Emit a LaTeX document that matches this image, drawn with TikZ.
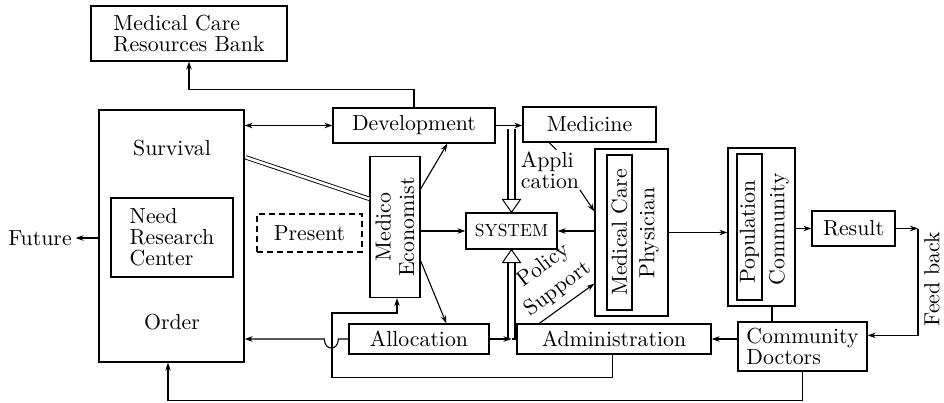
\documentclass[tikz,border=0pt]{standalone}
\usepackage{fontspec}
\setmainfont{lmroman10-regular.otf}
\usetikzlibrary{arrows.meta,calc}
\begin{document}
\begin{tikzpicture}[x=1pt,y=-1pt,line width=1.1pt,
  every node/.style={font=\fontsize{21.8}{21}\selectfont},
  rbox/.style={draw,inner sep=0pt,line width=1.3pt},
  arr/.style={-{Stealth[length=8pt,width=5.5pt]}},
  darr/.style={{Stealth[length=8pt,width=5.5pt]}-{Stealth[length=8pt,width=5.5pt]}},
  hollow/.style={draw,fill=white,line width=1pt,line join=miter},
  vtext/.style={rotate=90,inner sep=0pt,align=center},
  slant/.style={rotate=37,inner sep=0pt}]
\useasboundingbox (0,0) rectangle (944,402);

% boxes
\node[rbox,minimum width=196pt,minimum height=55pt,align=left] (bank) at (189,33.5) {Medical Care\\Resources Bank};
\node[rbox,minimum width=145pt,minimum height=252pt] (big) at (171.5,236) {};
\node (surv) at (172,148) {Survival};
\node (order) at (172,322) {Order};
\node[rbox,minimum width=122pt,minimum height=79pt,align=left] (need) at (172,237.5) {Need\\Research\\Center};
\node (fut) at (40,238) {Future};
\node[rbox,minimum width=162pt,minimum height=35pt] (dev) at (414,125.5) {Development};
\node[rbox,minimum width=133pt,minimum height=35pt] (med) at (589.5,124.5) {Medicine};
\node[rbox,minimum width=91pt,minimum height=36pt,font=\fontsize{17.5}{17}\selectfont] (sys) at (511.5,231) {SYSTEM};
\node[rbox,minimum width=50pt,minimum height=141pt] (econ) at (395,227) {};
\node[vtext,font=\fontsize{21.8}{23.5}\selectfont] (econt) at (395,227) {Medico\\Economist};
\node[rbox,dash pattern=on 6pt off 4pt,minimum width=105pt,minimum height=38pt] (pres) at (309.5,233) {Present};
\node[rbox,minimum width=140pt,minimum height=30pt] (alloc) at (419,339) {Allocation};
\node[rbox,minimum width=194pt,minimum height=30pt] (admin) at (614,339) {Administration};
\node[rbox,minimum width=73pt,minimum height=167pt] (mco) at (631.5,232.5) {};
\node[rbox,minimum width=25pt,minimum height=155pt] (mci) at (619.5,232.5) {};
\node[vtext] (mct) at (619.5,232.5) {Medical Care};
\node[vtext] (phys) at (649,233) {Physician};
\node[rbox,minimum width=67pt,minimum height=158pt] (popo) at (761.5,227) {};
\node[rbox,minimum width=25pt,minimum height=146pt] (popi) at (749.5,227) {};
\node[vtext] (popt) at (749.5,232) {Population};
\node[vtext] (comt) at (779,229) {Community};
\node[rbox,minimum width=83pt,minimum height=35pt] (res) at (853.5,228.5) {Result};
\node[rbox,minimum width=129pt,minimum height=49pt,align=left] (cdoc) at (802.5,346.5) {Community\\Doctors};
\node[vtext] (fb) at (932,279) {Feed back};
\node[align=left,inner sep=0pt] (appl) at (550,170) {Appli\\cation};
\node[slant] (pol1) at (544,266) {Policy};
\node[slant] (pol2) at (558,289) {Support};

% connectors
\draw[arr] (big.west |- fut.east) -- (fut.east);
\draw[darr] (big.east |- dev.west) -- (dev.west);
\draw[arr] (dev.east) -- (med.west |- dev.east);
\draw[arr] (dev.north) -- ++(0,-18) -| (bank.south);
\coordinate (s1) at ($(big.north east)+(1,48)$);
\coordinate (s2) at ($(econ.north west)+(0,43)$);
\draw[double,double distance=2.6pt,line width=0.9pt] (s1) -- (s2);
\coordinate (e1) at ($(econ.north east)+(0,33)$);
\draw[arr] (e1) -- ($(dev.south west)+(115,0)$);
\coordinate (e2) at ($(econ.north east)+(0,105)$);
\draw[arr] (e2) -- ($(alloc.north west)+(98,0)$);
\draw[arr] (econ.east |- sys.west) -- (sys.west);
\draw[arr] (mco.west |- sys.east) -- (sys.east);
\draw ($(med.south west)+(27,0)$) -- ++(7,7);
\coordinate (a1) at (580,190);
\draw[arr] (a1) -- ($(mco.north west)+(0,63)$);
\draw[arr] ($(admin.north west)+(23,0)$) -- ($(mco.south west)+(0,-33)$);
\coordinate (jA) at (511.5,339);
\draw[arr] (alloc.east) -- (jA);
\draw (jA) -- (admin.west);
\draw[arr] (alloc.west) -- ++(-10,0) .. controls +(0,12) and +(0,12) .. ++(-14,0) -- (big.east |- alloc.west);
\coordinate (lp) at (332,313);
\draw[arr] ($(admin.south west)+(96,0)$) -- ++(0,23) -| (lp) -| ($(econ.south)+(2,0)$);
\draw[arr] (cdoc.west |- admin.east) -- (admin.east);
\coordinate (pb) at ($(popo.south)+(10.5,0)$);
\draw (pb) -- (pb |- cdoc.north);
\draw[arr] (cdoc.south) -- ++(0,29) -| ($(big.south)+(-3.5,0)$);
\draw[arr] (mco.east) -- (popo.west |- mco.east);
\draw[arr] (popo.east |- res.west) -- (res.west);
\coordinate (fbc) at (918,228.5);
\draw[arr] (res.east) -- (fbc);
\draw[arr] (fbc) |- ($(cdoc.north east)+(0,14)$);

% hollow double arrows
\coordinate (ht) at (511.5,129);
\draw ($(ht)+(-3.5,0)$) -- ($(sys.north)+(-3.5,-13)$) ($(ht)+(3.5,0)$) -- ($(sys.north)+(3.5,-13)$);
\draw[hollow] ($(sys.north)+(-9,-13)$) -- ($(sys.north)+(9,-13)$) -- (sys.north) -- cycle;
\draw ($(jA)+(-3.5,0)$) -- ($(sys.south)+(-3.5,13)$) ($(jA)+(3.5,0)$) -- ($(sys.south)+(3.5,13)$);
\draw[hollow] ($(sys.south)+(-9,13)$) -- ($(sys.south)+(9,13)$) -- (sys.south) -- cycle;
\end{tikzpicture}
\end{document}
